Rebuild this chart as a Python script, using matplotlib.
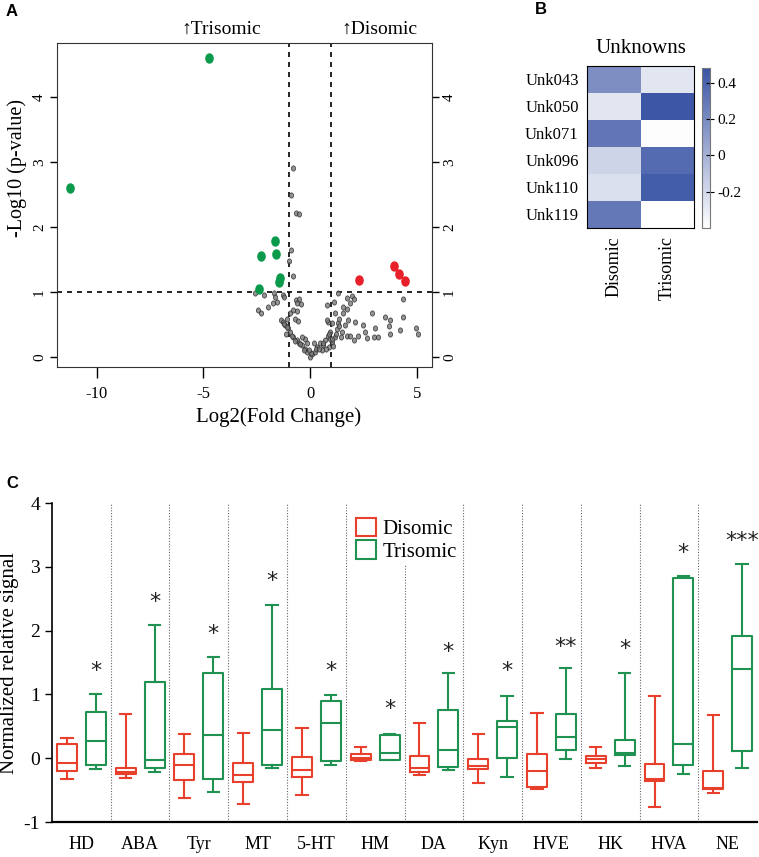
import matplotlib
matplotlib.use('Agg')
import matplotlib.pyplot as plt
from matplotlib.colors import LinearSegmentedColormap
from matplotlib.patches import Patch
from matplotlib.path import Path
from matplotlib.transforms import Affine2D

plt.rcParams['font.family'] = ['Liberation Serif', 'DejaVu Serif']
plt.rcParams['axes.unicode_minus'] = False

# ---- A: volcano data ----
tri_fc = [-4.75, -11.25, -1.63, -2.30, -1.60, -1.41, -1.47, -2.41]
tri_p = [4.60, 2.60, 1.79, 1.55, 1.58, 1.21, 1.16, 1.05]
di_fc = [2.31, 3.94, 4.18, 4.43]
di_p = [1.18, 1.40, 1.27, 1.17]
ns_fc = [-0.81, -0.89, -0.66, -0.53, -0.91, -1.00, -0.81,
         -2.60, -2.14, -1.67, -1.64, -1.28, -1.21, -1.95, -1.72, -1.56, -2.45, -2.28,
         -0.66, -0.50, -0.59, -0.44, -0.78, -0.59, -0.94, -0.70, -0.55,
         -1.38, -1.25, -1.10, -1.17, -1.05, -1.13, -0.94, -0.78, -0.63, -0.50,
         -0.36, -0.23, -0.13, 0.00, 0.11, 0.23, 0.34, 0.47, 0.63, 0.72, 0.83,
         0.94, 1.02, 1.10, 0.91, 0.75, -0.23, -0.39, 0.17, -0.16, 0.78, 0.86,
         0.78, 1.02, 1.17, 1.33, 1.25, 1.38, 1.49, 1.64, 1.72, 1.80, 1.75, 1.88,
         1.72, 1.96, 2.07, 1.88, 2.11, 2.08, 2.27, 2.50, 2.58, 2.66, 2.89, 3.05,
         3.00, 3.21, 3.52, 3.76, 3.71, 3.76, 4.20, 4.35, 4.38, 4.97, 5.05,
         1.29, 1.14, 1.54, 1.54, 1.38, 0.05, 0.30, 0.55, 1.15, 1.20, 0.95, -0.05,
         -1.20, -1.08, -0.85, -0.72, -0.45, -0.30, 0.40, 0.60, 0.88, 1.05, 1.45]
ns_p = [2.90, 2.49, 2.22, 2.20, 1.64, 1.47, 1.24,
        0.98, 0.96, 0.98, 0.92, 0.96, 0.92, 0.77, 0.83, 0.84, 0.72, 0.67,
        0.88, 0.89, 0.83, 0.82, 0.72, 0.70, 0.68, 0.59, 0.56,
        0.57, 0.54, 0.58, 0.49, 0.44, 0.36, 0.39, 0.30, 0.26, 0.22,
        0.18, 0.13, 0.08, 0.005, 0.04, 0.08, 0.15, 0.21, 0.18, 0.26, 0.32,
        0.39, 0.23, 0.17, 0.15, 0.12, 0.27, 0.30, 0.21, 0.21, 0.80, 0.54,
        0.57, 0.52, 0.67, 0.52, 0.43, 0.47, 0.39, 0.49, 0.32, 0.57, 0.73, 0.83,
        0.90, 0.94, 0.89, 0.32, 0.54, 0.26, 0.32, 0.49, 0.38, 0.29, 0.67, 0.44,
        0.30, 0.31, 0.61, 0.57, 0.47, 0.36, 0.41, 0.62, 0.89, 0.44, 0.36,
        0.98, 0.84, 0.77, 0.67, 0.59, 0.06, 0.12, 0.10, 0.30, 0.36, 0.28, 0.10,
        0.50, 0.46, 0.33, 0.24, 0.20, 0.10, 0.12, 0.22, 0.36, 0.28, 0.30]

# ---- B: heatmap data ----
unk_rows = ['Unk043', 'Unk050', 'Unk071', 'Unk096', 'Unk110', 'Unk119']
unk_cols = ['Disomic', 'Trisomic']
unk_dis = [0.18, -0.27, 0.30, -0.18, -0.24, 0.29]
unk_tri = [-0.27, 0.46, -0.39, 0.36, 0.43, -0.40]

# ---- C: box plot data ----
metabolites = ['HD', 'ABA', 'Tyr', 'MT', '5-HT', 'HM', 'DA', 'Kyn', 'HVE', 'HK', 'HVA', 'NE']
dis_lo = [-0.33, -0.31, -0.63, -0.72, -0.58, -0.04, -0.26, -0.39, -0.48, -0.15, -0.76, -0.55]
dis_q1 = [-0.20, -0.25, -0.34, -0.38, -0.29, -0.03, -0.22, -0.17, -0.45, -0.07, -0.36, -0.48]
dis_med = [-0.08, -0.21, -0.10, -0.27, -0.19, 0.01, -0.16, -0.12, -0.20, -0.01, -0.33, -0.46]
dis_q3 = [0.23, -0.16, 0.06, -0.08, 0.02, 0.07, 0.03, -0.005, 0.07, 0.03, -0.09, -0.20]
dis_hi = [0.32, 0.70, 0.38, 0.40, 0.48, 0.17, 0.56, 0.38, 0.71, 0.17, 0.98, 0.67]
tri_lo = [-0.17, -0.22, -0.53, -0.15, -0.10, -0.03, -0.19, -0.29, -0.01, -0.12, -0.24, -0.15]
tri_q1 = [-0.10, -0.15, -0.33, -0.10, -0.05, -0.03, -0.13, 0.00, 0.125, 0.05, -0.11, 0.11]
tri_med = [0.27, -0.02, 0.37, 0.44, 0.56, 0.08, 0.125, 0.49, 0.34, 0.08, 0.23, 1.40]
tri_q3 = [0.72, 1.19, 1.34, 1.09, 0.89, 0.37, 0.76, 0.59, 0.70, 0.29, 2.83, 1.92]
tri_hi = [1.00, 2.09, 1.58, 2.40, 0.99, 0.385, 1.33, 0.98, 1.41, 1.33, 2.86, 3.05]
sig_marks = ['*', '*', '*', '*', '*', '*', '*', '*', '**', '*', '*', '***']
sig_y = [1.44, 2.53, 2.02, 2.86, 1.44, 0.85, 1.74, 1.44, 1.82, 1.79, 3.30, 3.48]

RED = '#e8402c'
GREEN = '#1f9150'

fig = plt.figure(figsize=(7.59, 8.57), dpi=100)

# ---------------- A ----------------
ax = fig.add_axes([0.0751, 0.5718, 0.4941, 0.3781])
ell = Path.unit_circle().transformed(Affine2D().scale(0.8, 1.0))
ax.scatter(ns_fc, ns_p, s=14, marker=ell, facecolor='#7a7a7a', edgecolor='#2a2a2a',
           linewidth=0.6, alpha=0.8, zorder=3)
ax.scatter(tri_fc, tri_p, s=42, marker=ell, color='#0b9a4b', zorder=4)
ax.scatter(di_fc, di_p, s=42, marker=ell, color='#e8202a', zorder=4)
for xv in (-1, 1):
    ax.axvline(xv, color='black', lw=1.2, ls=(0, (3, 3)), zorder=2)
ax.axhline(1, color='black', lw=1.2, ls=(0, (3, 3)), zorder=2)
ax.set_xlim(-11.86, 5.72)
ax.set_ylim(-0.154, 4.83)
ax.set_xticks([-10, -5, 0, 5])
ax.set_yticks([0, 1, 2, 3, 4])
ax.tick_params(axis='x', length=8, width=1, pad=6, labelsize=12)
ax.tick_params(axis='y', length=5, width=1, pad=3, labelsize=11, right=True,
               labelright=True, labelrotation=90)
for lab in ax.get_yticklabels():
    lab.set_va('center')
for sp in ax.spines.values():
    sp.set_color('#333333')
fig.text(0.367, 1 - 417 / 857, 'Log2(Fold Change)', fontsize=15, ha='center', va='center')
fig.text(17 / 759, 1 - 168 / 857, '-Log10 (p-value)', fontsize=14.5, ha='center', va='center',
         rotation=90)
fig.text(0.291, 1 - 29 / 857, '\u2191Trisomic', fontsize=14, ha='center', va='center',
         family=['Liberation Serif', 'DejaVu Sans'])
fig.text(0.500, 1 - 29 / 857, '\u2191Disomic', fontsize=14, ha='center', va='center',
         family=['Liberation Serif', 'DejaVu Sans'])

# ---------------- B ----------------
hm = [[d, t] for d, t in zip(unk_dis, unk_tri)]
cmap = LinearSegmentedColormap.from_list('wb', ['#ffffff', '#3a54a5'])
axh = fig.add_axes([0.7734, 0.7340, 0.1410, 0.1890])
im = axh.imshow(hm, cmap=cmap, vmin=-0.4, vmax=0.48, aspect='auto')
axh.set_xticks(range(len(unk_cols)))
axh.set_xticklabels(unk_cols, rotation=90, fontsize=13)
axh.set_yticks(range(len(unk_rows)))
axh.set_yticklabels(unk_rows, fontsize=12)
axh.tick_params(length=0, pad=6)
axh.set_title('Unknowns', fontsize=15, pad=9)
for sp in axh.spines.values():
    sp.set_linewidth(0.8)
cax = fig.add_axes([0.9249, 0.7340, 0.0105, 0.1867])
cb = fig.colorbar(im, cax=cax, ticks=[-0.2, 0, 0.2, 0.4])
cb.ax.set_yticklabels(['-0.2', '0', '0.2', '0.4'])
cb.ax.tick_params(labelsize=11, direction='inout', length=6, width=0.8, pad=2)
cb.outline.set_edgecolor('#777777')

# ---------------- C ----------------
axb = fig.add_axes([0.0685, 0.0408, 0.9289, 0.3722])
pos = list(range(1, len(metabolites) + 1))
off = 0.245
dis_stats = [dict(whislo=a, q1=b, med=c, q3=d, whishi=e, fliers=[])
             for a, b, c, d, e in zip(dis_lo, dis_q1, dis_med, dis_q3, dis_hi)]
tri_stats = [dict(whislo=a, q1=b, med=c, q3=d, whishi=e, fliers=[])
             for a, b, c, d, e in zip(tri_lo, tri_q1, tri_med, tri_q3, tri_hi)]
for stats, shift, col in ((dis_stats, -off, RED), (tri_stats, off, GREEN)):
    lp = dict(color=col, linewidth=1.5)
    axb.bxp(stats, positions=[p + shift for p in pos], widths=0.34, capwidths=0.19,
            showfliers=False, boxprops=lp, whiskerprops=lp, capprops=lp,
            medianprops=lp, manage_ticks=False)
for i, (m, y) in enumerate(zip(sig_marks, sig_y)):
    axb.text(pos[i] + off, y - 0.08, m, fontsize=16, ha='center', va='center',
             family=['DejaVu Sans'], color='#222222')
for i in range(1, len(metabolites)):
    top = 3.05 if i == 6 else 4.0
    axb.vlines(i + 0.5, -1, top, color='#666666', lw=0.8, ls=(0, (1, 1.5)), zorder=0)
axb.set_xlim(0.5, 12.5)
axb.set_ylim(-1, 4)
axb.set_xticks(pos)
axb.set_xticklabels(metabolites, fontsize=13)
axb.set_yticks([-1, 0, 1, 2, 3, 4])
axb.tick_params(axis='x', length=0, pad=10)
axb.tick_params(axis='y', length=5, width=1, labelsize=14)
axb.spines['top'].set_visible(False)
axb.spines['right'].set_visible(False)
axb.spines['left'].set_linewidth(1.2)
axb.spines['bottom'].set_linewidth(1.6)
axb.set_ylabel('Normalized relative signal', fontsize=15)
axb.yaxis.set_label_coords(-0.047, 0.5)
handles = [Patch(facecolor='white', edgecolor=RED, lw=1.5, label='Disomic'),
           Patch(facecolor='white', edgecolor=GREEN, lw=1.5, label='Trisomic')]
axb.legend(handles=handles, loc='upper left', bbox_to_anchor=(0.41, 1.0),
           frameon=False, fontsize=15, handlelength=1.0, handleheight=1.0,
           handletextpad=0.3, labelspacing=0.05, borderpad=0.2)

# panel letters
for lbl, x, y in (('A', 12, 11), ('B', 541, 10), ('C', 12, 483)):
    fig.text(x / 759, 1 - y / 857, lbl, fontsize=12, fontweight='bold', ha='center',
             va='center', family=['Liberation Sans', 'DejaVu Sans'])

fig.savefig('out.png', dpi=100)
